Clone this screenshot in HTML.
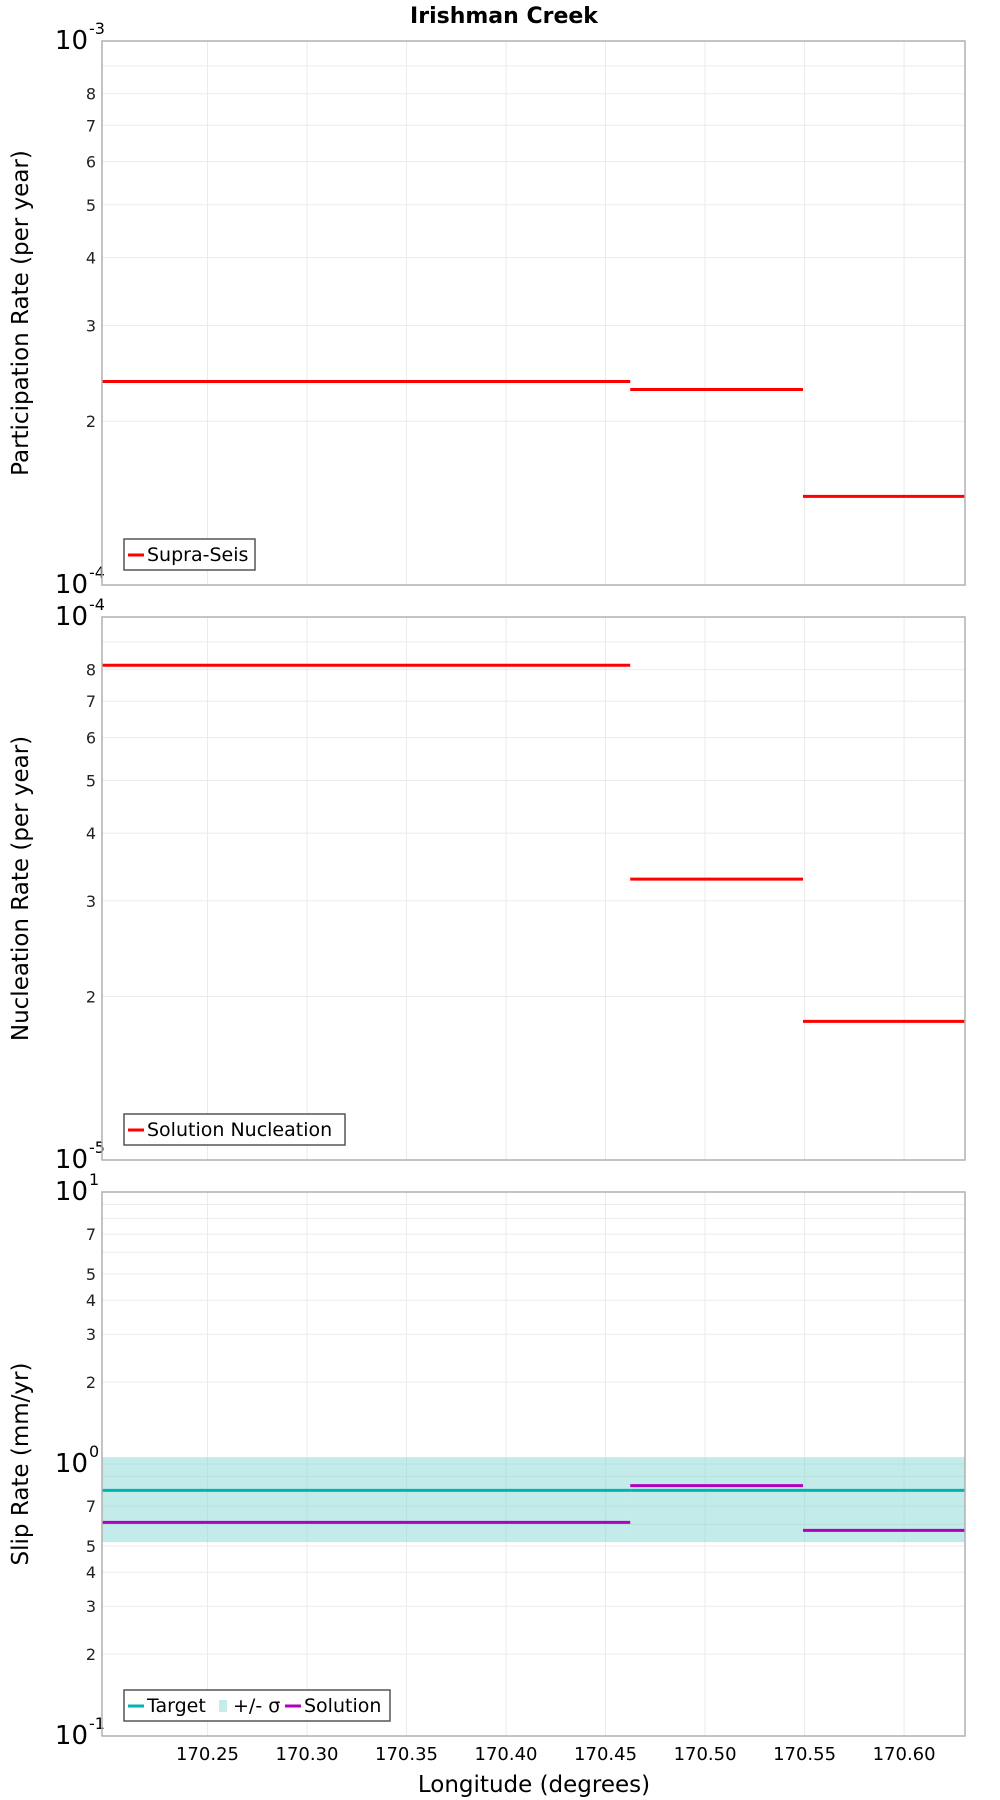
<!DOCTYPE html>
<html><head><meta charset="utf-8">
<style>
html,body{margin:0;padding:0;background:#fff;}
svg{display:block;font-family:"DejaVu Sans","Liberation Sans",sans-serif;}
</style></head>
<body>
<svg id="chart" width="1000" height="1800" viewBox="0 0 1000 1800" xmlns="http://www.w3.org/2000/svg">
<text x="504" y="23" text-anchor="middle" font-size="22" font-weight="bold">Irishman Creek</text>
</svg>
<script>
// ---- data ----
const xTicks = [170.25,170.30,170.35,170.40,170.45,170.50,170.55,170.60];
const xTickLabels = ["170.25","170.30","170.35","170.40","170.45","170.50","170.55","170.60"];
const xDomain = [170.197, 170.6306];
const segStarts = [170.197, 170.4624, 170.5492];
const segEnds = [170.4624, 170.5492, 170.6306];
const participation = [2.366e-4, 2.288e-4, 1.455e-4];
const nucleation = [8.15e-5, 3.29e-5, 1.80e-5];
const slipTarget = [0.80, 0.80, 0.80];
const slipSigmaLow = [0.516, 0.516, 0.516];
const slipSigmaHigh = [1.06, 1.06, 1.06];
const slipSolution = [0.61, 0.833, 0.57];

const NS="http://www.w3.org/2000/svg";
const svg=document.getElementById('chart');
const L=102,R=965;
function xs(v){return L+(v-xDomain[0])/(xDomain[1]-xDomain[0])*(R-L);}
function mk(tag,attrs,parent){const e=document.createElementNS(NS,tag);for(const k in attrs)e.setAttribute(k,attrs[k]);(parent||svg).appendChild(e);return e;}

function panel(cfg){
  const g=mk('g',{});
  
  
  const T=cfg.top,B=cfg.bottom,lo=cfg.expLo,hi=cfg.expHi;
  const ys=v=>B-(Math.log10(v)-lo)/(hi-lo)*(B-T);
  for(let e=lo;e<hi;e++){for(let m=1;m<=9;m++){const v=m*Math.pow(10,e);const y=ys(v);
    if(m>1){const gl=mk('line',{x1:L,x2:R,y1:y,y2:y,stroke:'#ebebeb','stroke-width':1},g);
      }
    if(m>1&&cfg.minorLabels.includes(m)){const t=mk('text',{x:96,y:y+6,'text-anchor':'end','font-size':16,fill:'#222'},g);t.textContent=m;
      }
  }}
  for(const xv of xTicks){const x=xs(xv);const gl=mk('line',{x1:x,x2:x,y1:T,y2:B,stroke:'#ebebeb','stroke-width':1},g);
    }
  for(let e=lo;e<=hi;e++){const y=ys(Math.pow(10,e));
    if(e>lo&&e<hi){const gl=mk('line',{x1:L,x2:R,y1:y,y2:y,stroke:'#ebebeb','stroke-width':1},g);
      }
    const t=mk('text',{x:88,y:y+8,'text-anchor':'end','font-size':26},g);t.textContent='10';
    
    const s=mk('text',{x:89,y:y-7,'font-size':16},g);s.textContent=String(e);
    }
  if(cfg.band){for(let i=0;i<segStarts.length;i++){const y1=ys(cfg.band[1][i]),y2=ys(cfg.band[0][i]);
    const r=mk('rect',{x:xs(segStarts[i]),y:y1,width:xs(segEnds[i])-xs(segStarts[i]),height:y2-y1,fill:'#7fd6d2','fill-opacity':0.48},g);
    }}
  for(const s of cfg.series){for(let i=0;i<segStarts.length;i++){const y=ys(s.vals[i]);
    const ln=mk('line',{x1:xs(segStarts[i]),x2:xs(segEnds[i]),y1:y,y2:y,stroke:s.color,'stroke-width':3},g);
    }}
  const fr=mk('rect',{x:L,y:T,width:R-L,height:B-T,fill:'none',stroke:'#b0b0b0','stroke-width':1.5},g);
  
  const cy=(T+B)/2;
  const yt=mk('text',{x:0,y:0,'text-anchor':'middle','font-size':23,transform:`translate(28,${cy}) rotate(-90)`},g);
  yt.textContent=cfg.ytitle;
  const lg=mk('g',{},g);
  mk('rect',{x:124,y:B-46,width:cfg.legendW,height:31,fill:'#fff',stroke:'#555','stroke-width':1.5},lg);
  let x=128;const ly=B-30;
  for(const it of cfg.legend){
    if(it.type==='line'){mk('line',{x1:x,x2:x+16,y1:ly,y2:ly,stroke:it.color,'stroke-width':3},lg);}
    else{mk('rect',{x:x+2,y:ly-6,width:8,height:12,fill:'#c3ecea'},lg);}
    const t=mk('text',{x:x+(it.type==='line'?19:16),y:ly+6,'font-size':19},lg);t.textContent=it.label;
    
    x+= (it.type==='line'?19:16)+it.w;
  }
}
panel({name:'participation-panel',top:41,bottom:585,expLo:-4,expHi:-3,minorLabels:[2,3,4,5,6,7,8],
  ytitle:'Participation Rate (per year)',series:[{name:'supra-seis',color:'#ff0000',vals:participation}],
  legendW:131,legend:[{type:'line',color:'#ff0000',label:'Supra-Seis',w:100}]});
panel({name:'nucleation-panel',top:617,bottom:1160,expLo:-5,expHi:-4,minorLabels:[2,3,4,5,6,7,8],
  ytitle:'Nucleation Rate (per year)',series:[{name:'solution-nucleation',color:'#ff0000',vals:nucleation}],
  legendW:221,legend:[{type:'line',color:'#ff0000',label:'Solution Nucleation',w:190}]});
panel({name:'slip-rate-panel',top:1192,bottom:1736,expLo:-1,expHi:1,minorLabels:[2,3,4,5,7],
  ytitle:'Slip Rate (mm/yr)',band:[slipSigmaLow,slipSigmaHigh],
  series:[{name:'target',color:'#00b5b0',vals:slipTarget},{name:'solution',color:'#b000c0',vals:slipSolution}],
  legendW:266,legend:[{type:'line',color:'#00b5b0',label:'Target',w:70},{type:'box',label:'+/- σ',w:52},{type:'line',color:'#b000c0',label:'Solution',w:80}]});
for(let i=0;i<xTicks.length;i++){const t=mk('text',{x:xs(xTicks[i]),y:1760,'text-anchor':'middle','font-size':18});t.textContent=xTickLabels[i];
  }
const xt=mk('text',{x:534,y:1792,'text-anchor':'middle','font-size':23});xt.textContent='Longitude (degrees)';

</script>
</body></html>
